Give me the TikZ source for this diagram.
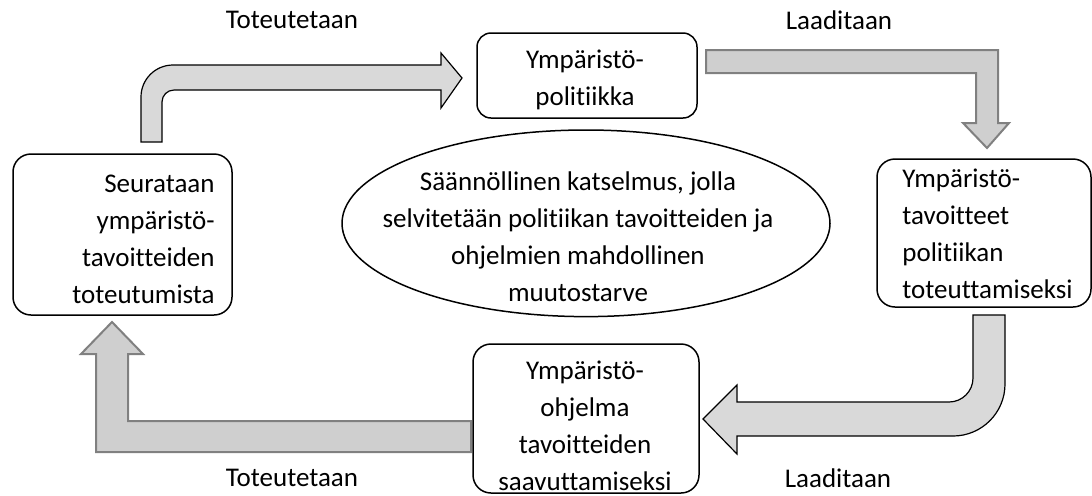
\documentclass[tikz,border=0pt]{standalone}
\usepackage{fontspec}
\setmainfont[Ligatures={NoCommon,NoRare,NoContextual}]{Carlito}
\usetikzlibrary{shapes.geometric}
\begin{document}
\begin{tikzpicture}[x=0.5pt,y=-0.5pt,
  box/.style={draw=black, line width=0.75pt, rounded corners=9pt, inner sep=0pt},
  txt/.style={font=\fontsize{13.5}{18.5}\selectfont, inner sep=0pt},
  curvearrow/.style={draw=black, line width=0.6pt, fill=black!15, line join=miter},
  flatarrow/.style={draw=black!50, line width=1pt, fill=black!19, line join=miter}]
\useasboundingbox (0,0) rectangle (1092,495);

% block arrows
\draw[curvearrow] (141,142) -- (141,97) arc[start angle=180,end angle=270,radius=32]
  -- (441,65) -- (441,53) -- (462,78) -- (441,108) -- (441,90) -- (174,90)
  arc[start angle=270,end angle=180,radius=12] -- (162,142) -- cycle;
\draw[flatarrow] (706,50) -- (998,50) -- (998,123) -- (1009,123) -- (987,148)
  -- (963,123) -- (976,123) -- (976,73) -- (706,73) -- cycle;
\draw[curvearrow] (973,315) -- (1005,315) -- (1005,384) arc[start angle=0,end angle=90,radius=52]
  -- (737,436) -- (737,454) -- (703,419) -- (737,385) -- (737,402) -- (949,402)
  arc[start angle=90,end angle=0,radius=24] -- cycle;
\draw[flatarrow] (471,421) -- (128,421) -- (128,354) -- (143,354) -- (112,322)
  -- (81,354) -- (96,354) -- (96,452) -- (471,452) -- cycle;

% boxes
\node[box, rounded corners=7pt, minimum width=110pt, minimum height=42.5pt] (pol) at (587,75.5) {};
\node[txt, align=center] (poltext) at (585,80) {Ympäristö-\\politiikka};

\node[box, minimum width=109.5pt, minimum height=80.5pt] (seur) at (122.5,234.5) {};
\node[txt, align=right, anchor=east] (seurtext) at (215,239) {Seurataan\\ympäristö-\\tavoitteiden\\toteutumista};

\node[box, minimum width=107pt, minimum height=74pt] (tav) at (984,233) {};
\node[txt, align=left, anchor=west] (tavtext) at (902,234) {Ympäristö-\\tavoitteet\\politiikan\\toteuttamiseksi};

\node[box, minimum width=113pt, minimum height=74.5pt] (ohj) at (586,418.5) {};
\node[txt, align=center] (ohjtext) at (585,426) {Ympäristö-\\ohjelma\\tavoitteiden\\saavuttamiseksi};

\node[draw=black, line width=0.75pt, ellipse, inner sep=0pt, minimum width=244pt, minimum height=93.3pt] (kats) at (586,223.3) {};
\node[txt, align=center] (katstext) at (578,237) {Säännöllinen katselmus, jolla\\selvitetään politiikan tavoitteiden ja\\ohjelmien mahdollinen\\muutostarve};

% labels
\node[txt] (l1) at (292,20) {Toteutetaan};
\node[txt] (l2) at (839,20) {Laaditaan};
\node[txt] (l3) at (292,478) {Toteutetaan};
\node[txt] (l4) at (838,478) {Laaditaan};
\end{tikzpicture}
\end{document}
